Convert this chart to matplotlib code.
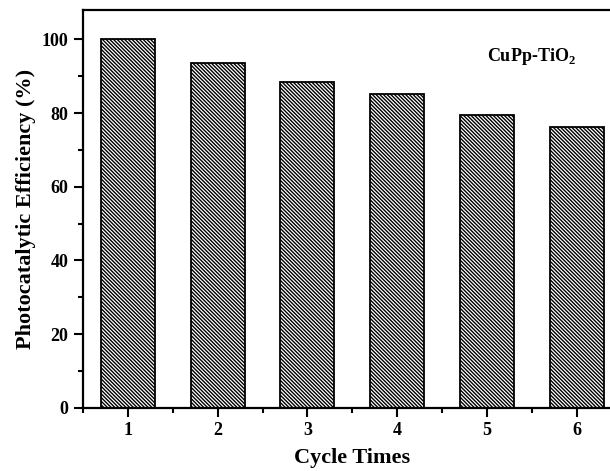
import matplotlib.pyplot as plt
from matplotlib.ticker import MultipleLocator

# data
cycles = [1, 2, 3, 4, 5, 6]
efficiency = [100.0, 93.5, 88.4, 85.2, 79.6, 76.3]

plt.rcParams["font.family"] = "Liberation Serif"
plt.rcParams["font.weight"] = "bold"
plt.rcParams["mathtext.fontset"] = "custom"
plt.rcParams["mathtext.rm"] = "Liberation Serif:bold"
plt.rcParams["mathtext.bf"] = "Liberation Serif:bold"
plt.rcParams["hatch.linewidth"] = 1.0

fig = plt.figure(figsize=(6.1, 4.71), dpi=100)
ax = fig.add_axes([0.136, 0.134, 0.883, 0.845])

ax.bar(cycles, efficiency, width=0.6, color="white", edgecolor="black",
       linewidth=1.3, hatch="\\" * 9)

ax.set_xlim(0.5, 6.5)
ax.set_ylim(0, 108)
ax.xaxis.set_major_locator(MultipleLocator(1))
ax.xaxis.set_minor_locator(MultipleLocator(0.5))
ax.yaxis.set_major_locator(MultipleLocator(20))
ax.yaxis.set_minor_locator(MultipleLocator(10))
ax.tick_params(which="both", direction="out", width=1.5, labelsize=13)
ax.tick_params(which="major", length=6.5, pad=4)
ax.tick_params(which="minor", length=3.5)
for s in ax.spines.values():
    s.set_linewidth(1.6)

ax.set_xlabel("Cycle Times", fontsize=16, fontweight="bold", labelpad=6)
ax.set_ylabel("Photocatalytic Efficiency (%)", fontsize=16, fontweight="bold", labelpad=4)

ax.text(5.5, 95.4, r"CuPp-TiO$_\mathrm{2}$", fontsize=13, fontweight="bold",
        ha="center", va="center")

fig.savefig("out.png", dpi=100)
